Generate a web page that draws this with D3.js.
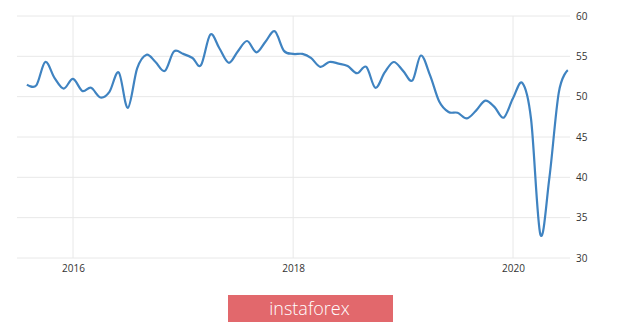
<!DOCTYPE html>
<html>
<head>
<meta charset="utf-8">
<script src="https://cdn.jsdelivr.net/npm/d3@7"></script>
<style>
  html, body { margin: 0; padding: 0; background: #ffffff; }
  svg { display: block; }
</style>
</head>
<body>
<svg id="chart" width="620" height="324"></svg>
<script>
const months = [
  "2015-08","2015-09","2015-10","2015-11","2015-12",
  "2016-01","2016-02","2016-03","2016-04","2016-05","2016-06","2016-07","2016-08","2016-09","2016-10","2016-11","2016-12",
  "2017-01","2017-02","2017-03","2017-04","2017-05","2017-06","2017-07","2017-08","2017-09","2017-10","2017-11","2017-12",
  "2018-01","2018-02","2018-03","2018-04","2018-05","2018-06","2018-07","2018-08","2018-09","2018-10","2018-11","2018-12",
  "2019-01","2019-02","2019-03","2019-04","2019-05","2019-06","2019-07","2019-08","2019-09","2019-10","2019-11","2019-12",
  "2020-01","2020-02","2020-03","2020-04","2020-05","2020-06","2020-07"
];
const values = [
  51.5, 51.4, 54.3, 52.3, 51.0,
  52.2, 50.7, 51.1, 49.9, 50.6, 53.0, 48.6, 53.5, 55.2, 54.3, 53.2, 55.6,
  55.3, 54.8, 53.9, 57.7, 56.0, 54.2, 55.6, 56.9, 55.5, 56.8, 58.1, 55.7,
  55.3, 55.3, 54.8, 53.7, 54.3, 54.1, 53.8, 52.9, 53.7, 51.1, 53.0, 54.3,
  53.2, 52.0, 55.1, 52.6, 49.4, 48.1, 48.0, 47.3, 48.3, 49.5, 48.7, 47.4,
  49.8, 51.7, 47.2, 32.9, 40.0, 50.5, 53.3
];
const yTicks = [30, 35, 40, 45, 50, 55, 60];
const xTickLabels = ["2016", "2018", "2020"];

(function () {
const parse = d3.timeParse("%Y-%m");
const data = months.map((m, i) => ({ date: parse(m), value: values[i] }));

const svg = d3.select("#chart");
const pLeft = 17, pRight = 570, pTop = 16, pBottom = 258;

const x = d3.scaleTime()
  .domain([parse("2016-01"), parse("2020-01")])
  .range([73, 513]);
const y = d3.scaleLinear().domain([30, 60]).range([pBottom, pTop]);

// horizontal grid
svg.append("g").selectAll("line").data(yTicks).join("line")
  .attr("x1", pLeft).attr("x2", pRight)
  .attr("y1", d => y(d)).attr("y2", d => y(d))
  .attr("stroke", "#e8e8e8").attr("stroke-width", 1);

// vertical grid
const xTickDates = xTickLabels.map(s => parse(s + "-01"));
svg.append("g").selectAll("line").data(xTickDates).join("line")
  .attr("x1", d => x(d)).attr("x2", d => x(d))
  .attr("y1", pTop).attr("y2", pBottom)
  .attr("stroke", "#e8e8e8").attr("stroke-width", 1);

// y axis labels (right side)
const yAxis = d3.axisRight(y).tickValues(yTicks).tickSize(0).tickPadding(0);
const gy = svg.append("g").attr("transform", "translate(576,0)").call(yAxis);
gy.select(".domain").remove();
gy.selectAll("text")
  .attr("fill", "#333").attr("font-family", "'Open Sans', sans-serif").attr("font-size", "10px");

// x axis labels
const xAxis = d3.axisBottom(x).tickValues(xTickDates).tickFormat(d3.timeFormat("%Y")).tickSize(0).tickPadding(0);
const gx = svg.append("g").attr("transform", "translate(0,265)").call(xAxis);
gx.select(".domain").remove();
gx.selectAll("text")
  .attr("fill", "#333").attr("font-family", "'Open Sans', sans-serif").attr("font-size", "10px");

// line
const line = d3.line()
  .x(d => x(d.date)).y(d => y(d.value))
  .curve(d3.curveCatmullRom.alpha(0));
svg.append("path").datum(data)
  .attr("d", line)
  .attr("fill", "none")
  .attr("stroke", "#3f83c1")
  .attr("stroke-width", 2.2)
  .attr("stroke-linejoin", "round");

// watermark
svg.append("rect")
  .attr("x", 228).attr("y", 295).attr("width", 165).attr("height", 27)
  .attr("fill", "#e2686c");
svg.append("text")
  .attr("x", 309.5).attr("y", 315)
  .attr("text-anchor", "middle")
  .attr("fill", "#ffffff")
  .attr("font-family", "'Open Sans', sans-serif")
  .attr("font-weight", 300)
  .attr("font-size", "18px")
  .text("instaforex");
})();
</script>
</body>
</html>
